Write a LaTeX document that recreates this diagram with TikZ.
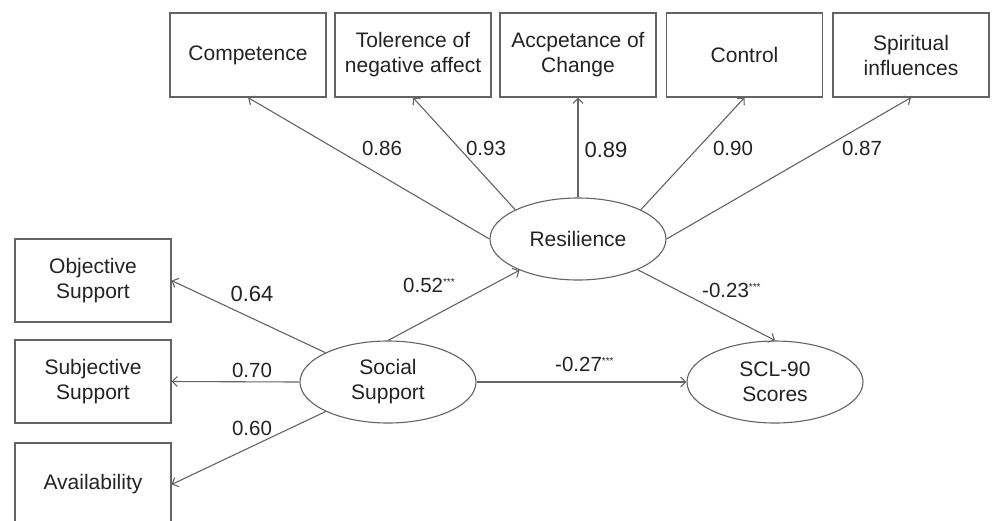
\documentclass[tikz,border=0pt]{standalone}
\usepackage{fontspec}
\setmainfont{Liberation Sans}
\usetikzlibrary{shapes.geometric,arrows.meta}
\definecolor{ln}{RGB}{100,100,100}
\definecolor{tx}{RGB}{35,35,35}
\newcommand{\stars}{\raisebox{7pt}{\fontsize{10}{10}\selectfont ***}}
\begin{document}
\begin{tikzpicture}[x=1pt,y=-1pt,
  box/.style={draw=ln, line width=1.1pt, rectangle, minimum width=156pt, minimum height=84pt, inner sep=0pt, align=center, font=\fontsize{21}{25}\selectfont, text=tx},
  lat/.style={draw=ln, line width=1.1pt, ellipse, minimum width=176pt, minimum height=82pt, inner sep=0pt, align=center, font=\fontsize{21}{25}\selectfont, text=tx},
  arr/.style={draw=ln, line width=1.1pt, -{Straight Barb[length=5pt,width=10pt]}},
  lab/.style={font=\fontsize{20.5}{24}\selectfont, text=tx, inner sep=0pt},
  labb/.style={font=\fontsize{22}{26}\selectfont, text=tx, inner sep=0pt}]
\clip (0,0) rectangle (992,520);
\fill[white] (0,0) rectangle (992,520);
% top indicator boxes
\node[box] (comp) at (248,55) {Competence};
\node[box] (tol)  at (413,55) {Tolerence of\\negative affect};
\node[box] (acc)  at (578,55) {Accpetance of\\Change};
\node[box] (ctrl) at (744.5,55) {Control};
\node[box] (spir) at (911,55) {Spiritual\\influences};
% left indicator boxes
\node[box, minimum height=83pt] (obj) at (93,280.5) {Objective\\Support};
\node[box, minimum height=83pt] (sub) at (93,381.5) {Subjective\\Support};
\node[box, minimum height=83pt] (ava) at (93,484.5) {Availability};
% latent variables
\node[lat] (res) at (578,239) {Resilience};
\node[lat] (soc) at (388,382) {Social\\Support};
\node[lat] (scl) at (775,382) {SCL-90\\Scores};
% arrows
\draw[arr] (res.west) -- (comp.south);
\draw[arr] (res.155) -- (tol.south);
\draw[arr] (res.north) -- (acc.south);
\draw[arr] (res.25) -- (ctrl.south);
\draw[arr] (res.east) -- (spir.south);
\draw[arr] (soc) -- (obj.east);
\draw[arr] (soc.west) -- (sub.east);
\draw[arr] (soc) -- (ava.east);
\draw[arr] (soc.north) -- (res);
\draw[arr] (res) -- (scl.north);
\draw[arr] (soc.east) -- (scl.west);
% labels
\node[lab] (l86) at (382,148) {0.86};
\node[lab] (l93) at (486,148) {0.93};
\node[labb] (l89) at (606,150) {0.89};
\node[lab] (l90) at (733,148) {0.90};
\node[lab] (l87) at (862,148) {0.87};
\node[labb] (l64) at (252,294) {0.64};
\node[lab] (l70) at (252,370) {0.70};
\node[lab] (l60) at (252,428) {0.60};
\node[lab, anchor=base west] (l52) at (403,292.5) {0.52\stars};
\node[lab, anchor=base west] (l23) at (702,297.5) {-0.23\stars};
\node[lab, anchor=base west] (l27) at (555,371.5) {-0.27\stars};
\end{tikzpicture}
\end{document}
